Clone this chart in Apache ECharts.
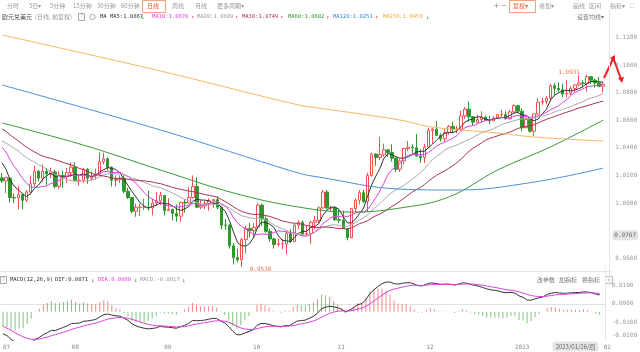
<!DOCTYPE html>
<html><head><meta charset="utf-8">
<script src="https://cdn.jsdelivr.net/npm/echarts@6/dist/echarts.min.js"></script>
<style>html,body{margin:0;padding:0;background:#fff}#c{width:640px;height:352px}</style>
</head><body><div id="c"></div>
<script>
// ---------------- data ----------------
const categories = [
'2022/07/07','2022/07/08','2022/07/11','2022/07/12','2022/07/13','2022/07/14','2022/07/15','2022/07/18','2022/07/19','2022/07/20','2022/07/21','2022/07/22','2022/07/25','2022/07/26','2022/07/27','2022/07/28','2022/07/29',
'2022/08/01','2022/08/02','2022/08/03','2022/08/04','2022/08/05','2022/08/08','2022/08/09','2022/08/10','2022/08/11','2022/08/12','2022/08/15','2022/08/16','2022/08/17','2022/08/18','2022/08/19','2022/08/22','2022/08/23','2022/08/24','2022/08/25','2022/08/26','2022/08/29','2022/08/30','2022/08/31',
'2022/09/01','2022/09/02','2022/09/05','2022/09/06','2022/09/07','2022/09/08','2022/09/09','2022/09/12','2022/09/13','2022/09/14','2022/09/15','2022/09/16','2022/09/19','2022/09/20','2022/09/21','2022/09/22','2022/09/23','2022/09/26','2022/09/27','2022/09/28','2022/09/29','2022/09/30',
'2022/10/03','2022/10/04','2022/10/05','2022/10/06','2022/10/07','2022/10/10','2022/10/11','2022/10/12','2022/10/13','2022/10/14','2022/10/17','2022/10/18','2022/10/19','2022/10/20','2022/10/21','2022/10/24','2022/10/25','2022/10/26','2022/10/27','2022/10/28','2022/10/31',
'2022/11/01','2022/11/02','2022/11/03','2022/11/04','2022/11/07','2022/11/08','2022/11/09','2022/11/10','2022/11/11','2022/11/14','2022/11/15','2022/11/16','2022/11/17','2022/11/18','2022/11/21','2022/11/22','2022/11/23','2022/11/24','2022/11/25','2022/11/28','2022/11/29','2022/11/30',
'2022/12/01','2022/12/02','2022/12/05','2022/12/06','2022/12/07','2022/12/08','2022/12/09','2022/12/12','2022/12/13','2022/12/14','2022/12/15','2022/12/16','2022/12/19','2022/12/20','2022/12/21','2022/12/22','2022/12/23','2022/12/26','2022/12/27','2022/12/28','2022/12/29','2022/12/30',
'2023/01/02','2023/01/03','2023/01/04','2023/01/05','2023/01/06','2023/01/09','2023/01/10','2023/01/11','2023/01/12','2023/01/13','2023/01/16','2023/01/17','2023/01/18','2023/01/19','2023/01/20','2023/01/23','2023/01/24','2023/01/25','2023/01/26','2023/01/27','2023/01/30','2023/01/31',
'2023/02/01'];

const tickDates  = ['2022/07/07','2022/08/01','2022/09/01','2022/10/03','2022/11/01','2022/12/01','2023/01/02','2023/02/01'];
const tickLabels = ['07','08','09','10','11','12','2023','02'];
const priceTicks = ['1.1200','1.1000','1.0800','1.0600','1.0400','1.0200','1.0000','0.9600'];
const macdTicks  = ['0.0100','0.0000','-0.0100','-0.0200'];

const opens = [
1.0182,1.0160,1.0180,1.0040,1.0037,1.0060,1.0020,1.0080,1.0140,1.0230,1.0180,1.0230,1.0210,1.0225,1.0120,1.0200,1.0195,
1.0220,1.0260,1.0165,1.0165,1.0245,1.0180,1.0195,1.0210,1.0300,1.0320,1.0260,1.0165,1.0170,1.0180,1.0085,1.0040,0.9940,0.9970,0.9970,0.9970,0.9965,1.0000,1.0015,
1.0055,0.9945,0.9955,0.9925,0.9905,1.0005,1.0000,1.0040,1.0120,0.9970,0.9980,0.9995,1.0015,1.0025,0.9970,0.9840,0.9838,0.9690,0.9605,0.9590,0.9735,0.9815,
0.9800,0.9825,0.9985,0.9885,0.9795,0.9740,0.9700,0.9705,0.9705,0.9780,0.9720,0.9840,0.9860,0.9775,0.9780,0.9860,0.9875,0.9965,1.0080,0.9965,0.9965,
0.9880,0.9875,0.9815,0.9750,0.9960,1.0020,1.0075,1.0010,1.0200,1.0355,1.0330,1.0350,1.0385,1.0365,1.0325,1.0245,1.0305,1.0395,1.0405,1.0400,1.0340,1.0330,
1.0405,1.0525,1.0535,1.0490,1.0465,1.0510,1.0555,1.0535,1.0535,1.0630,1.0680,1.0625,1.0585,1.0605,1.0620,1.0600,1.0595,1.0615,1.0640,1.0640,1.0610,1.0660,
1.0705,1.0665,1.0545,1.0605,1.0520,1.0645,1.0730,1.0735,1.0760,1.0850,1.0830,1.0820,1.0790,1.0795,1.0830,1.0855,1.0870,1.0865,1.0915,1.0890,1.0870,1.0845];
const closes = [
1.0160,1.0185,1.0040,1.0037,1.0060,1.0020,1.0080,1.0140,1.0230,1.0180,1.0230,1.0210,1.0225,1.0120,1.0200,1.0195,1.0220,
1.0260,1.0165,1.0165,1.0245,1.0180,1.0195,1.0210,1.0300,1.0320,1.0260,1.0165,1.0170,1.0180,1.0085,1.0040,0.9940,0.9970,0.9970,0.9970,0.9965,1.0000,1.0015,1.0055,
0.9945,0.9955,0.9925,0.9905,1.0005,1.0000,1.0040,1.0120,0.9970,0.9980,0.9995,1.0015,1.0025,0.9970,0.9840,0.9838,0.9690,0.9605,0.9590,0.9735,0.9815,0.9800,
0.9825,0.9985,0.9885,0.9795,0.9740,0.9700,0.9705,0.9705,0.9780,0.9720,0.9840,0.9860,0.9775,0.9780,0.9860,0.9875,0.9965,1.0080,0.9965,0.9965,0.9880,
0.9875,0.9815,0.9750,0.9960,1.0020,1.0075,1.0010,1.0200,1.0355,1.0330,1.0350,1.0385,1.0365,1.0325,1.0245,1.0305,1.0395,1.0405,1.0400,1.0340,1.0330,1.0405,
1.0525,1.0535,1.0490,1.0465,1.0510,1.0555,1.0535,1.0535,1.0630,1.0680,1.0625,1.0585,1.0605,1.0620,1.0600,1.0595,1.0615,1.0640,1.0640,1.0610,1.0660,1.0705,
1.0665,1.0545,1.0605,1.0520,1.0645,1.0730,1.0735,1.0760,1.0850,1.0830,1.0820,1.0790,1.0795,1.0830,1.0855,1.0870,1.0865,1.0915,1.0890,1.0870,1.0845,1.0860];
const lows = [
1.0145,1.0072,1.0005,0.9998,0.9952,0.9955,1.0005,1.0060,1.0120,1.0155,1.0155,1.0130,1.0180,1.0105,1.0100,1.0110,1.0145,
1.0190,1.0160,1.0125,1.0145,1.0140,1.0160,1.0170,1.0200,1.0280,1.0235,1.0120,1.0120,1.0145,1.0070,1.0030,0.9925,0.9900,0.9905,0.9950,0.9945,0.9910,0.9980,0.9985,
0.9910,0.9945,0.9875,0.9865,0.9865,0.9930,0.9995,1.0035,0.9965,0.9955,0.9955,0.9945,0.9965,0.9955,0.9810,0.9805,0.9670,0.9555,0.9570,0.9538,0.9635,0.9750,
0.9750,0.9815,0.9835,0.9785,0.9720,0.9670,0.9685,0.9665,0.9630,0.9710,0.9720,0.9810,0.9760,0.9760,0.9705,0.9810,0.9855,0.9960,0.9955,0.9940,0.9870,
0.9855,0.9815,0.9730,0.9745,0.9935,0.9990,1.0000,0.9935,1.0190,1.0270,1.0310,1.0335,1.0335,1.0300,1.0225,1.0225,1.0280,1.0375,1.0355,1.0340,1.0290,1.0290,
1.0400,1.0430,1.0485,1.0445,1.0445,1.0495,1.0505,1.0505,1.0520,1.0610,1.0590,1.0560,1.0575,1.0580,1.0595,1.0570,1.0595,1.0610,1.0620,1.0605,1.0605,1.0645,
1.0650,1.0520,1.0545,1.0510,1.0485,1.0640,1.0710,1.0715,1.0735,1.0780,1.0805,1.0765,1.0765,1.0780,1.0805,1.0845,1.0835,1.0805,1.0860,1.0835,1.0840,1.0800];
const highs = [
1.0217,1.0187,1.0185,1.0070,1.0122,1.0070,1.0095,1.0200,1.0270,1.0240,1.0280,1.0255,1.0255,1.0240,1.0230,1.0235,1.0255,
1.0295,1.0295,1.0210,1.0255,1.0255,1.0230,1.0250,1.0368,1.0365,1.0330,1.0265,1.0200,1.0200,1.0200,1.0110,1.0040,0.9995,0.9995,1.0030,1.0090,1.0030,1.0080,1.0080,
1.0055,1.0035,0.9945,0.9990,1.0010,1.0030,1.0115,1.0200,1.0185,1.0020,1.0015,1.0035,1.0030,1.0050,0.9975,0.9885,0.9850,0.9710,0.9670,0.9750,0.9835,0.9855,
0.9855,0.9999,0.9995,0.9905,0.9815,0.9750,0.9745,0.9740,0.9800,0.9810,0.9850,0.9875,0.9875,0.9835,0.9870,0.9905,0.9975,1.0095,1.0095,0.9980,0.9975,
0.9955,0.9945,0.9815,0.9965,1.0035,1.0095,1.0095,1.0220,1.0365,1.0360,1.0480,1.0430,1.0390,1.0425,1.0330,1.0320,1.0400,1.0450,1.0425,1.0500,1.0390,1.0430,
1.0545,1.0545,1.0595,1.0505,1.0535,1.0565,1.0590,1.0560,1.0670,1.0695,1.0735,1.0630,1.0640,1.0665,1.0635,1.0630,1.0630,1.0645,1.0675,1.0665,1.0675,1.0715,
1.0710,1.0685,1.0620,1.0620,1.0650,1.0760,1.0760,1.0775,1.0865,1.0870,1.0875,1.0865,1.0890,1.0845,1.0860,1.0925,1.0890,1.0931,1.0920,1.0900,1.0915,1.0875];

// closes before the visible window (only used to start the moving averages / MACD)
const preCloses = [1.0690,1.0735,1.0675,1.0725,1.0735,1.0780,1.0735,1.0645,1.0750,1.0720,1.0695,1.0705,1.0715,1.0615,1.0520,1.0410,1.0415,1.0445,1.0545,1.0495,1.0510,1.0535,1.0565,1.0520,1.0555,1.0585,1.0520,1.0445,1.0485,1.0425,1.0425,1.0265,1.0182];

// long averages: [category index, value]
const ma60Pts  = [[0,1.0580],[20,1.0420],[39,1.0239],[57,1.0073],[73,0.9971],[86,0.9935],[98,0.9964],[110,1.0044],[122,1.0239],[135,1.0406],[148,1.0601]];
const ma120Pts = [[0,1.0855],[39,1.0529],[73,1.0217],[78,1.0188],[98,1.0101],[112,1.0094],[131,1.0152],[148,1.0253]];
const ma250Pts = [[0,1.1217],[39,1.0956],[73,1.0710],[78,1.0688],[98,1.0601],[106,1.0550],[122,1.0507],[131,1.0478],[148,1.0449]];

// ---------------- derived ----------------
const allCloses = preCloses.concat(closes);
const off = preCloses.length;
function ma(n){
  return closes.map((c,i)=>{let s=0;for(let k=0;k<n;k++)s+=allCloses[off+i-k];return +(s/n).toFixed(5);});
}
function ema(arr,n){const a=2/(n+1);const out=[];let e=arr[0];arr.forEach((v,i)=>{e=i===0?v:a*v+(1-a)*e;out.push(e);});return out;}
const e12=ema(allCloses,12), e26=ema(allCloses,26);
const difAll=e12.map((v,i)=>v-e26[i]);
const deaAll=ema(difAll,9);
const dif=difAll.slice(off).map(v=>+v.toFixed(5));
const dea=deaAll.slice(off).map(v=>+v.toFixed(5));
const hist=dif.map((v,i)=>+(2*(v-dea[i])).toFixed(5));

const candleData = opens.map((o,i)=>[o,closes[i],lows[i],highs[i]]);

// ---------------- chart ----------------
const MONO = "'DejaVu Sans Mono', monospace";
const CJK = "'Noto Sans CJK SC', sans-serif";
const RED='#ee5252', GREEN='#2e982e';
const chart = echarts.init(document.getElementById('c'), null, {renderer:'canvas'});

function txt(x,y,t,fill,opt){opt=opt||{};return {type:'text',silent:true,style:{x:x,y:y,text:t,fill:fill||'#999',fontSize:opt.size||6,fontFamily:opt.font||CJK,textAlign:opt.align||'left',textVerticalAlign:'middle'}};}
function rect(x,y,w,h,stroke){return {type:'rect',silent:true,shape:{x:x,y:y,width:w,height:h},style:{fill:'none',stroke:stroke,lineWidth:1}};}
function line(x1,y1,x2,y2,stroke,w){return {type:'line',silent:true,shape:{x1:x1,y1:y1,x2:x2,y2:y2},style:{stroke:stroke,lineWidth:w||1}};}

const graphics = [
  // toolbar
  txt(7,6,'分时'), txt(29,6,'5日▾'), txt(50,6,'5分钟'), txt(73,6,'15分钟'), txt(97,6,'30分钟'), txt(121,6,'60分钟'),
  rect(142.5,0.5,23,12,'#f3a27e'), txt(147,6,'日线','#e8602c'),
  txt(172,6,'周线'), txt(195,6,'月线'), txt(217,6,'更多周期▾'),
  txt(494,6,'+','#999',{font:MONO,size:8}), txt(502,6,'−','#999',{font:MONO,size:8}),
  rect(509.5,0.5,26,12,'#f3a27e'), txt(513,6,'复权▾','#e8602c'),
  txt(539,6,'叠加▾'), txt(573,6,'画线'), txt(589,6,'区间'), txt(610,6,'指标▾'), txt(630,6,'⛶','#999',{font:MONO}),
  // main legend
  txt(2,17,'欧元兑美元','#444'), txt(35,17,'(日线, 前复权)','#999'),
  rect(78.5,13.5,6,7,'#aaa'), txt(81.5,17,'?','#999',{align:'center',font:MONO,size:5}),
  {type:'circle',silent:true,shape:{cx:92.5,cy:17,r:2.6},style:{fill:'none',stroke:'#aaa',lineWidth:1}},
  txt(100,17,'MA','#333',{font:MONO,size:5.5}),
  txt(110,17,'MA5:1.0867','#333',{font:MONO,size:5.5}), txt(141,17,'↓',GREEN,{font:MONO,size:6}),
  txt(152,17,'MA10:1.0870','#e040e0',{font:MONO,size:5.5}), txt(191,17,'↑',RED,{font:MONO,size:6}),
  txt(197,17,'MA20:1.0809','#999',{font:MONO,size:5.5}), txt(235,17,'↑',RED,{font:MONO,size:6}),
  txt(242,17,'MA30:1.0749','#a8344e',{font:MONO,size:5.5}), txt(280,17,'↑',RED,{font:MONO,size:6}),
  txt(288,17,'MA60:1.0602','#2e982e',{font:MONO,size:5.5}), txt(326,17,'↑',RED,{font:MONO,size:6}),
  txt(333,17,'MA120:1.0251','#3b86d6',{font:MONO,size:5.5}), txt(375,17,'↑',RED,{font:MONO,size:6}),
  txt(383,17,'MA250:1.0450','#f0a838',{font:MONO,size:5.5}), txt(426,17,'↓',GREEN,{font:MONO,size:6}),
  txt(577,17,'设置均线▾','#777'),
  // panel separator
  line(0,271.5,612,271.5,'#e6e6e6'),
  // MACD legend
  rect(0.5,276.5,6,7,'#aaa'), txt(3.5,280,'?','#999',{align:'center',font:MONO,size:5}),
  txt(10,280,'MACD(12,26,9)','#333',{font:MONO,size:5.5}),
  txt(55,280,'DIF:0.0071','#333',{font:MONO,size:5.5}), txt(91,280,'↓',GREEN,{font:MONO,size:6}),
  txt(98,280,'DEA:0.0080','#e040e0',{font:MONO,size:5.5}), txt(134,280,'↓',GREEN,{font:MONO,size:6}),
  txt(140,280,'MACD:-0.0017','#999',{font:MONO,size:5.5}), txt(182,280,'↓',GREEN,{font:MONO,size:6}),
  txt(537,280,'改参数','#777'), txt(559,280,'加指标','#777'), txt(582,280,'换指标','#777'),
  rect(605.5,276.5,7,7,'#bbb'), txt(609,280,'×','#999',{align:'center',font:MONO,size:6}),
  // hand-drawn red arrow
  {type:'polyline',silent:true,shape:{points:[[604,78],[613,59]]},style:{stroke:'#f02020',lineWidth:2,fill:'none'}},
  {type:'polygon',silent:true,shape:{points:[[610,58],[615,55],[615,62]]},style:{fill:'#f02020'}},
  {type:'polyline',silent:true,shape:{points:[[614,60],[621,79]]},style:{stroke:'#f02020',lineWidth:2,fill:'none'}},
  {type:'polygon',silent:true,shape:{points:[[618,78],[624,77],[622,83]]},style:{fill:'#f02020'}}
];

const option = {
  animation:false,
  backgroundColor:'#ffffff',
  axisPointer:{triggerOn:'none'},
  graphic: graphics,
  grid:[
    {left:0, width:610, top:9.7, height:276.2},
    {left:0, width:610, top:267.2, height:73.2}
  ],
  xAxis:[
    {type:'category', data:categories, gridIndex:0, boundaryGap:true, axisLine:{show:false}, axisTick:{show:false}, axisLabel:{show:false}, splitLine:{show:false}},
    {type:'category', data:categories, gridIndex:1, boundaryGap:true,
     axisLine:{show:true, lineStyle:{color:'#e0e0e0'}}, axisTick:{show:false}, splitLine:{show:false},
     axisLabel:{show:true, align:'left', margin:4, color:'#888', fontSize:6, fontFamily:MONO, hideOverlap:false, showMaxLabel:true,
       interval:(i,v)=>tickDates.indexOf(v)>=0, formatter:(v)=>{const k=tickDates.indexOf(v);return k>=0?tickLabels[k]:'';}},
     axisPointer:{show:true, status:'show', value:'2023/01/23', triggerTooltip:false, lineStyle:{opacity:0}, handle:{show:false},
       label:{show:true, formatter:()=> '2023/01/26/四', backgroundColor:'#e4e4e4', color:'#666', fontSize:6, fontFamily:CJK, padding:[2,3,2,3], margin:1}}}
  ],
  yAxis:[
    {type:'value', gridIndex:0, position:'right', min:0.94, max:1.14, interval:0.02,
     axisLine:{show:true, lineStyle:{color:'#e6e6e6'}}, axisTick:{show:false}, splitLine:{show:false},
     axisLabel:{show:true, margin:6, color:'#999', fontSize:6, fontFamily:MONO,
       formatter:(v)=>{const s=v.toFixed(4);return priceTicks.indexOf(s)>=0?s:'';}},
     axisPointer:{show:true, status:'show', value:0.9767, triggerTooltip:false, lineStyle:{opacity:0},
       label:{show:true, formatter:()=> '0.9767', backgroundColor:'#e4e4e4', color:'#666', fontSize:6, fontFamily:MONO, padding:[2,2,2,2], margin:3}}},
    // MACD tick labels as the platform prints them
    {type:'value', gridIndex:1, position:'right', min:-0.02, max:0.02, interval:0.01,
     axisLine:{show:true, lineStyle:{color:'#e6e6e6'}}, axisTick:{show:false}, splitLine:{show:false},
     axisLabel:{show:true, margin:6, color:'#999', fontSize:6, fontFamily:MONO, showMinLabel:true,
       formatter:(v)=>{const s=v.toFixed(4);if(macdTicks.indexOf(s)<0)return '';return v<-0.015?'{b|'+s+'}':s;},
       rich:{b:{color:'#999', fontSize:6, fontFamily:MONO, padding:[0,0,9,0]}}}},
    // MACD value scale used by the indicator marks
    {type:'value', gridIndex:1, position:'right', min:-0.01273, max:0.01974, show:false, splitLine:{show:false}}
  ],
  series:[
    {type:'candlestick', name:'K', xAxisIndex:0, yAxisIndex:0, data:candleData, barWidth:3,
     itemStyle:{color:'#ffffff', color0:GREEN, borderColor:RED, borderColor0:GREEN, borderWidth:1},
     markPoint:{symbol:'circle', symbolSize:0, silent:true,
       data:[
        {coord:['2023/01/25',1.0931], value:1.0931, label:{position:'left', offset:[-2,-2]}},
        {coord:['2022/09/28',0.9538], value:0.9538, label:{position:'right', offset:[3,3]}}
       ],
       label:{show:true, color:'#ee7a4a', fontSize:6, fontFamily:MONO, formatter:(p)=>p.value.toFixed(4)}}},
    {type:'line', name:'MA5', data:ma(5), symbol:'none', lineStyle:{width:1,color:'#333'}, z:3},
    {type:'line', name:'MA10', data:ma(10), symbol:'none', lineStyle:{width:1,color:'#e040e0'}, z:3},
    {type:'line', name:'MA20', data:ma(20), symbol:'none', lineStyle:{width:1,color:'#aaaaaa'}, z:3},
    {type:'line', name:'MA30', data:ma(30), symbol:'none', lineStyle:{width:1,color:'#a8344e'}, z:3},
    {type:'line', name:'MA60', data:ma60Pts, symbol:'none', smooth:0.4, lineStyle:{width:1,color:'#3a9a3a'}, z:3},
    {type:'line', name:'MA120', data:ma120Pts, symbol:'none', smooth:0.4, lineStyle:{width:1,color:'#4a90d8'}, z:3},
    {type:'line', name:'MA250', data:ma250Pts, symbol:'none', smooth:0.4, lineStyle:{width:1,color:'#f5b860'}, z:3},
    {type:'bar', name:'MACD', xAxisIndex:1, yAxisIndex:2, barWidth:1,
     data:hist.map(v=>({value:v, itemStyle:{color: v>=0?'#f08a8a':'#7fc47f'}}))},
    {type:'line', name:'DIF', xAxisIndex:1, yAxisIndex:2, data:dif, symbol:'none', lineStyle:{width:1,color:'#333'}},
    {type:'line', name:'DEA', xAxisIndex:1, yAxisIndex:2, data:dea, symbol:'none', lineStyle:{width:1,color:'#e040e0'}}
  ]
};
chart.setOption(option);
</script></body></html>
